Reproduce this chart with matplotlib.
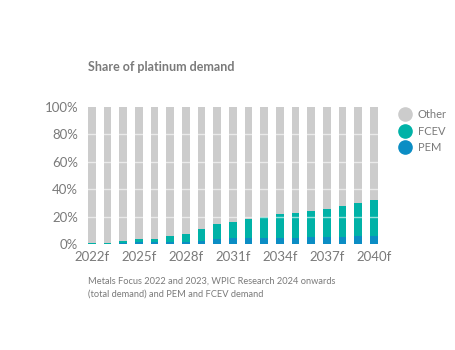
import matplotlib
matplotlib.use("Agg")
import matplotlib.pyplot as plt
from matplotlib.lines import Line2D

years = [f"{y}f" for y in range(2022, 2041)]
pem = [0.2, 0.3, 0.6, 1.8, 1.6, 1.8, 1.2, 2.3, 3.4, 4.2, 4.2, 4.2, 4.4, 4.4, 4.9, 5.3, 5.3, 6.0, 6.0]
fcev = [0.5, 0.7, 1.3, 2.2, 2.4, 3.9, 5.8, 9.0, 11.3, 11.9, 13.8, 15.5, 17.3, 18.3, 19.2, 20.4, 22.7, 23.8, 26.4]
other = [100 - p - f for p, f in zip(pem, fcev)]

c_other = "#cccccc"
c_fcev = "#00b2a7"
c_pem = "#0b8dc4"
txt = "#7a7a7a"

plt.rcParams['font.family'] = ['Lato', 'DejaVu Sans']

fig = plt.figure(figsize=(4.56, 3.5), dpi=100)
ax = fig.add_axes([82.3 / 456, (350 - 244) / 350, 301 / 456, 137 / 350])

x = list(range(len(years)))
w = 0.485
ax.bar(x, pem, w, color=c_pem, zorder=2)
ax.bar(x, fcev, w, bottom=pem, color=c_fcev, zorder=2)
bot = [p + f for p, f in zip(pem, fcev)]
ax.bar(x, other, w, bottom=bot, color=c_other, zorder=2)

for yv in [20, 40, 60, 80]:
    ax.axhline(yv, color="white", alpha=0.6, lw=1.0, zorder=3)

ax.set_xlim(-0.6, 18.6)
ax.set_ylim(0, 100)
ax.set_xticks(x[::3])
ax.set_xticklabels(years[::3])
ax.set_yticks([0, 20, 40, 60, 80, 100])
ax.set_yticklabels([f"{v}%" for v in [0, 20, 40, 60, 80, 100]])
ax.tick_params(length=0, labelsize=9.5, colors=txt)
ax.tick_params(axis="y", pad=3)
ax.tick_params(axis="x", pad=5)
for s in ax.spines.values():
    s.set_visible(False)

fig.text(88 / 456, 1 - 67 / 350, "Share of platinum demand", fontsize=9,
         fontweight="bold", color=txt, va="center")

handles = [Line2D([], [], marker="o", ls="", ms=9.5, color=c) for c in [c_other, c_fcev, c_pem]]
fig.legend(handles, ["Other", "FCEV", "PEM"], loc="upper left",
           bbox_to_anchor=(389 / 456, 1 - 99 / 350), frameon=False,
           fontsize=8, labelcolor=txt, handletextpad=0.7, labelspacing=0.5,
           handlelength=1.0)

fig.text(88 / 456, 1 - 288 / 350,
         "Metals Focus 2022 and 2023, WPIC Research 2024 onwards\n(total demand) and PEM and FCEV demand",
         fontsize=6.7, color=txt, va="center", linespacing=1.55)

fig.savefig("out.png", dpi=100)
